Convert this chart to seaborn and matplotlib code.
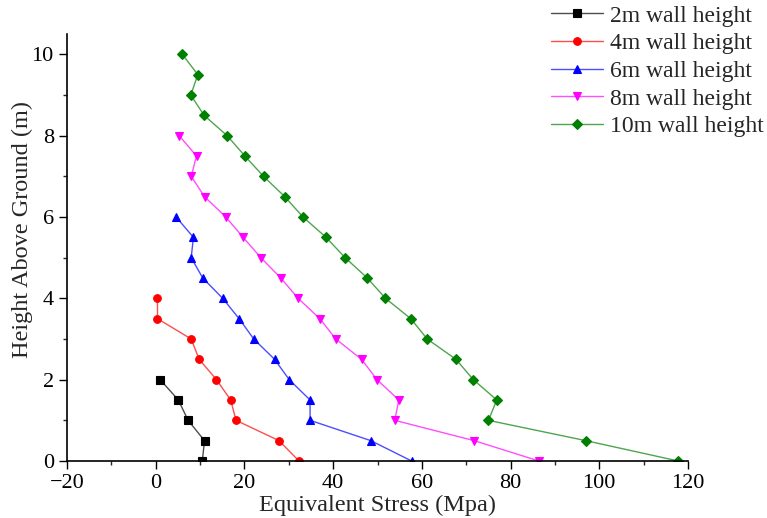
import matplotlib
matplotlib.use("Agg")
import matplotlib.pyplot as plt
import seaborn as sns
import pandas as pd
from matplotlib.ticker import MultipleLocator
from matplotlib.colors import to_rgba

# ---- data ----
labels = ["2m wall height", "4m wall height", "6m wall height", "8m wall height", "10m wall height"]
h2 = [0, 0.5, 1, 1.5, 2]
s2 = [10.5, 11.0, 7.3, 5.1, 1.0]
h4 = [0, 0.5, 1, 1.5, 2, 2.5, 3, 3.5, 4]
s4 = [32.3, 27.8, 18.1, 16.9, 13.7, 9.8, 8.0, 0.4, 0.4]
h6 = [0, 0.5, 1, 1.5, 2, 2.5, 3, 3.5, 4, 4.5, 5, 5.5, 6]
s6 = [57.7, 48.5, 34.8, 34.8, 30.1, 26.8, 22.1, 18.8, 15.1, 10.6, 8.0, 8.5, 4.6]
h8 = [0, 0.5, 1, 1.5, 2, 2.5, 3, 3.5, 4, 4.5, 5, 5.5, 6, 6.5, 7, 7.5, 8]
s8 = [86.4, 71.8, 53.9, 54.8, 49.9, 46.4, 40.6, 37.0, 32.1, 28.2, 23.7, 19.7, 15.8, 11.0, 8.0, 9.2, 5.3]
h10 = [0, 0.5, 1, 1.5, 2, 2.5, 3, 3.5, 4, 4.5, 5, 5.5, 6, 6.5, 7, 7.5, 8, 8.5, 9, 9.5, 10]
s10 = [117.8, 97.0, 75.0, 76.9, 71.6, 67.7, 61.2, 57.5, 51.8, 47.7, 42.7, 38.4, 33.2, 29.1, 24.3, 20.1, 16.1, 10.9, 7.9, 9.5, 6.0]

colors = ["#000000", "#ff0000", "#0000ff", "#ff00ff", "#008000"]
markers = ["s", "o", "^", "v", "D"]

frames = []
for lab, hh, ss in zip(labels, [h2, h4, h6, h8, h10], [s2, s4, s6, s8, s10]):
    frames.append(pd.DataFrame({"stress": ss, "height": hh, "wall": lab}))
df = pd.concat(frames, ignore_index=True)

sns.set_style("ticks")
plt.rcParams["font.family"] = ["Liberation Serif", "DejaVu Serif"]
plt.rcParams["mathtext.fontset"] = "stix"

fig = plt.figure(figsize=(7.67, 5.18), dpi=100)
ax = fig.add_axes([67 / 767, 1 - 461 / 518, (688 - 67) / 767, (461 - 34) / 518])

sns.lineplot(data=df, x="stress", y="height", hue="wall", style="wall",
             hue_order=labels, style_order=labels,
             palette=colors, markers=markers, dashes=False, sort=False,
             estimator=None, linewidth=1.0, markersize=5.5,
             markeredgewidth=0.8, ax=ax, legend=True)


def lighten(c, f=0.3):
    r, g, b, _ = to_rgba(c)
    return (r + (1 - r) * f, g + (1 - g) * f, b + (1 - b) * f)


# lighten connecting lines, keep markers solid
for line in ax.lines:
    c = line.get_color()
    line.set_color(lighten(c))
    line.set_markerfacecolor(c)
    line.set_markeredgecolor(c)

ax.set_xlim(-20, 120)
ax.set_ylim(0, 10.5)
ax.xaxis.set_major_locator(MultipleLocator(20))
ax.xaxis.set_minor_locator(MultipleLocator(10))
ax.yaxis.set_major_locator(MultipleLocator(2))
ax.yaxis.set_minor_locator(MultipleLocator(1))
ax.tick_params(which="major", direction="out", length=5.5, width=1, labelsize=16,
               colors="black", pad=4)
ax.tick_params(which="minor", direction="out", length=3, width=1)
for side in ["top", "right"]:
    ax.spines[side].set_visible(False)
for side in ["left", "bottom"]:
    ax.spines[side].set_linewidth(1.2)
    ax.spines[side].set_color("black")

ax.set_xlabel("Equivalent Stress (Mpa)", fontsize=17.5, labelpad=1)
ax.set_ylabel("Height Above Ground (m)", fontsize=17.5)
ax.yaxis.set_label_coords((33 - 67) / 621, (461 - 230) / 427)

handles, labs = ax.get_legend_handles_labels()
if ax.legend_:
    ax.legend_.remove()
for hnd in handles:
    c = hnd.get_markerfacecolor()
    hnd.set_color(lighten(c))
    hnd.set_markerfacecolor(c)
    hnd.set_markeredgecolor(c)
leg = fig.legend(handles, labs, loc="upper left",
                 bbox_to_anchor=(551 / 767, 1 - 5 / 518), bbox_transform=fig.transFigure,
                 frameon=False, fontsize=17, handlelength=2.2, handletextpad=0.3,
                 labelspacing=0.26, borderpad=0, borderaxespad=0)

fig.savefig("out.png", dpi=100)
